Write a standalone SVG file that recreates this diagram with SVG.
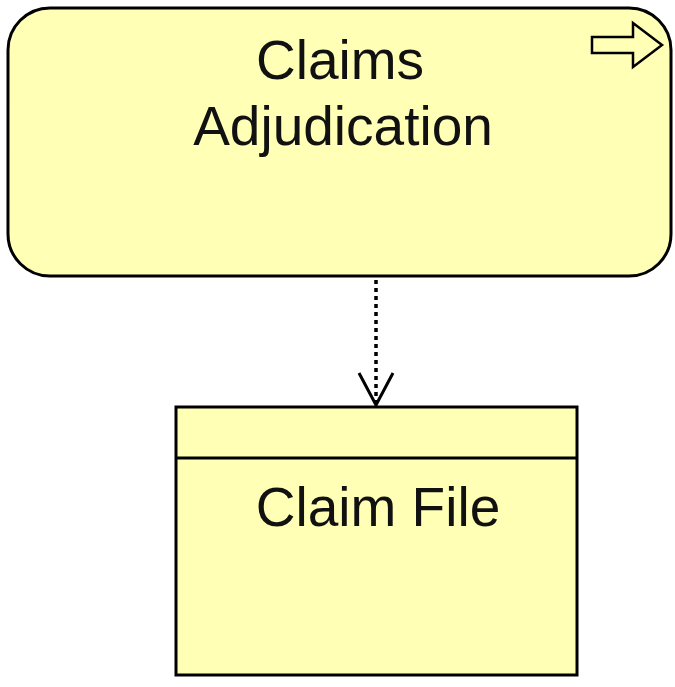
<svg xmlns="http://www.w3.org/2000/svg" width="675" height="687" viewBox="0 0 675 687">
  <defs>
    <style>
      .shape { fill: #ffffb5; stroke: #000; stroke-width: 3; }
      .label { font-family: "Liberation Sans", Arial, sans-serif; font-size: 55px; fill: #111; text-anchor: middle; }
      .icon { fill: none; stroke: #000; stroke-width: 2.5; stroke-linejoin: miter; }
      .access { fill: none; stroke: #000; stroke-width: 3.5; stroke-dasharray: 4 4; }
      .head { fill: none; stroke: #000; stroke-width: 3; }
    </style>
  </defs>
  <rect width="675" height="687" fill="#ffffff"/>
  <g id="claims-adjudication">
    <rect class="shape" x="8" y="8" width="663" height="268" rx="42" ry="42"/>
    <path class="icon" d="M592 37 L633 37 L633 23 L662 45 L633 67 L633 53 L592 53 Z"/>
    <text class="label" x="340" y="79">Claims</text>
    <text class="label" x="343" y="145">Adjudication</text>
  </g>
  <g id="claim-file">
    <rect class="shape" x="176" y="407" width="401" height="268"/>
    <line x1="176" y1="458" x2="577" y2="458" stroke="#000" stroke-width="3"/>
    <text class="label" x="378" y="526">Claim File</text>
  </g>
  <g id="connectors">
    <line class="access" x1="376" y1="280" x2="376" y2="402"/>
    <path class="head" d="M359 373 L376 405 L393 373"/>
  </g>
</svg>
